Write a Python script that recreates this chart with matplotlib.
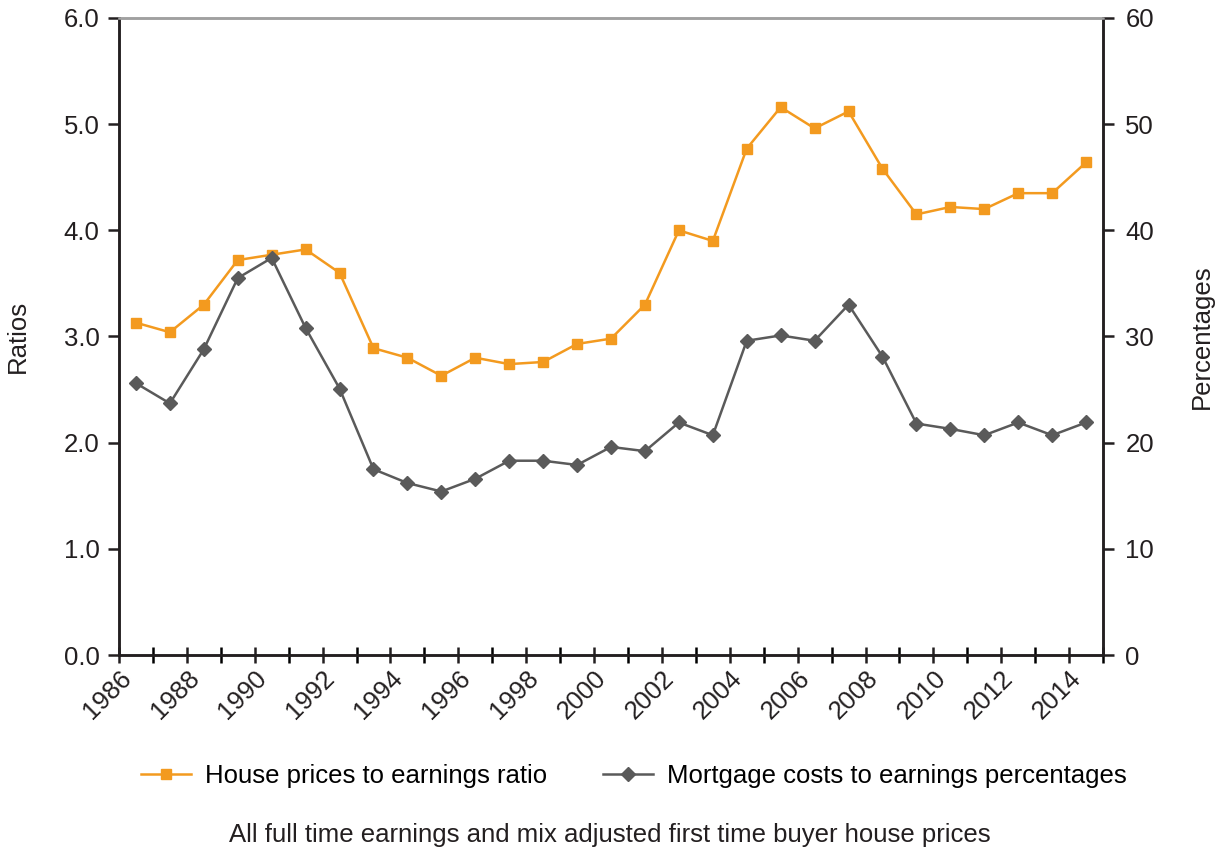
import matplotlib.pyplot as plt
import numpy as np

years = np.arange(1986, 2015)
house_ratio = [3.13, 3.04, 3.30, 3.72, 3.77, 3.82, 3.60, 2.89, 2.80, 2.63,
               2.80, 2.74, 2.76, 2.93, 2.98, 3.30, 4.00, 3.90, 4.77, 5.16,
               4.96, 5.12, 4.58, 4.15, 4.22, 4.20, 4.35, 4.35, 4.64]
mortgage_pct = [25.6, 23.7, 28.8, 35.5, 37.4, 30.8, 25.1, 17.5, 16.2, 15.4,
                16.6, 18.3, 18.3, 17.9, 19.6, 19.2, 21.9, 20.7, 29.6, 30.1,
                29.6, 33.0, 28.1, 21.8, 21.3, 20.7, 21.9, 20.7, 21.9]

plt.rcParams['font.family'] = ['Liberation Sans', 'DejaVu Sans']
orange = '#F39A1F'
grey = '#5A5A5A'
ink = '#231F20'
fs = 18.5

fig = plt.figure(figsize=(12.19, 8.52), dpi=100)
ax = fig.add_axes([0.0976, 0.2312, 0.8073, 0.7477])
ax2 = ax.twinx()

x = years + 0.5
l1, = ax.plot(x, house_ratio, color=orange, marker='s', markersize=7.5, lw=1.8,
              label='House prices to earnings ratio')
l2, = ax2.plot(x, mortgage_pct, color=grey, marker='D', markersize=7, lw=1.8,
               label='Mortgage costs to earnings percentages')

ax.set_xlim(1986, 2015)
ax.set_ylim(0, 6)
ax2.set_ylim(0, 60)
ax.set_yticks(np.arange(0, 6.1, 1.0))
ax.set_yticklabels([f'{v:.1f}' for v in np.arange(0, 6.1, 1.0)])
ax2.set_yticks(np.arange(0, 61, 10))
ax.set_xticks(np.arange(1986, 2016, 1), minor=True)
ax.set_xticks(np.arange(1986, 2015, 2))
ax.set_xticklabels([str(y) for y in range(1986, 2015, 2)], rotation=45,
                   ha='right', rotation_mode='anchor')

for a in (ax, ax2):
    for s in a.spines.values():
        s.set_color(ink)
        s.set_linewidth(1.8)
    a.spines['top'].set_color('#A0A0A0')
    a.tick_params(labelsize=fs, colors=ink, width=1.8, length=8)
ax.tick_params(axis='x', which='both', direction='inout', length=12, width=1.8)
ax.tick_params(axis='x', which='major', pad=2)
ax.tick_params(axis='y', direction='out', length=8, pad=6)
ax2.tick_params(axis='y', direction='out', length=8, pad=8)

ax.set_ylabel('Ratios', fontsize=fs, color=ink, labelpad=24)
ax2.set_ylabel('Percentages', fontsize=fs, color=ink, labelpad=26)

fig.legend(handles=[l1, l2], loc='center', bbox_to_anchor=(0.52, 0.089),
           ncol=2, frameon=False, fontsize=fs, handlelength=1.95,
           handletextpad=0.55, columnspacing=2.15)
fig.text(0.5, 0.012, 'All full time earnings and mix adjusted first time buyer house prices',
         ha='center', fontsize=fs, color=ink)

fig.savefig('out.png', dpi=100)
